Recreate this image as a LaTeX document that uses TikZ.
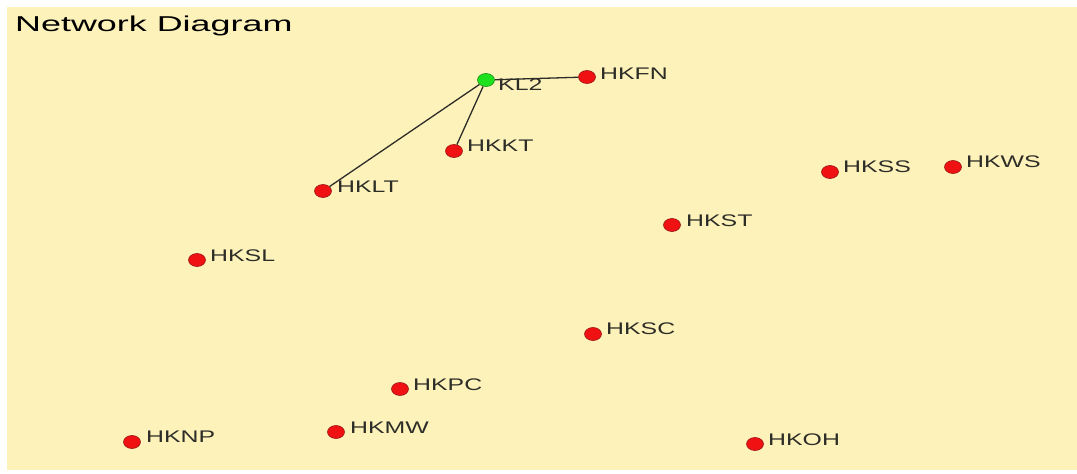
\documentclass[tikz,border=0pt]{standalone}
\usepackage{fontspec}
\setmainfont{Liberation Sans}
\usetikzlibrary{shapes.geometric}
\definecolor{bg}{RGB}{254,242,187}
\definecolor{nodered}{RGB}{240,18,18}
\definecolor{redline}{RGB}{150,20,20}
\definecolor{nodegreen}{RGB}{30,225,30}
\definecolor{greenline}{RGB}{20,140,20}
\definecolor{labelgray}{RGB}{45,45,40}
\definecolor{edgegray}{RGB}{45,45,40}
\begin{document}
\begin{tikzpicture}[x=1pt,y=-1pt,
  dot/.style={ellipse, draw=redline, line width=0.6pt, fill=nodered, minimum width=17pt, minimum height=13pt, inner sep=0pt},
  gdot/.style={dot, draw=greenline, fill=nodegreen},
  lbl/.style={anchor=west, text=labelgray, inner sep=0pt, font=\fontsize{16.8}{18}\selectfont},
  edge/.style={draw=edgegray, line width=1.3pt}]
\useasboundingbox (0,0) rectangle (1077,474);
\fill[bg] (7,7) rectangle (1077,470);
\node[anchor=west, inner sep=0pt, text=black, font=\fontsize{21.5}{24}\selectfont] (title) at (15,26) {\scalebox{1.67}[1]{Network Diagram}};
% nodes
\node[gdot] (kl2) at (486,80) {};
\node[dot] (fn) at (587,77) {};
\node[dot] (kt) at (454,151) {};
\node[dot] (lt) at (323,191) {};
\node[dot] (ss) at (830,172) {};
\node[dot] (ws) at (953,167) {};
\node[dot] (st) at (672,225) {};
\node[dot] (sl) at (197,260) {};
\node[dot] (sc) at (593,334) {};
\node[dot] (pc) at (400,389) {};
\node[dot] (np) at (132,442) {};
\node[dot] (mw) at (336,432) {};
\node[dot] (oh) at (755,444) {};
% edges
\draw[edge] (kl2) -- (fn);
\draw[edge] (kl2) -- (kt);
\draw[edge] (kl2) -- (lt);
% labels
\node[lbl] (lkl2) at (498,85) {\scalebox{1.48}[1]{KL2}};
\node[lbl] (lfn) at (600,74) {\scalebox{1.48}[1]{HKFN}};
\node[lbl] (lkt) at (467,146) {\scalebox{1.48}[1]{HKKT}};
\node[lbl] (llt) at (337,187) {\scalebox{1.48}[1]{HKLT}};
\node[lbl] (lss) at (843,167) {\scalebox{1.48}[1]{HKSS}};
\node[lbl] (lws) at (966,162) {\scalebox{1.48}[1]{HKWS}};
\node[lbl] (lst) at (686,221) {\scalebox{1.48}[1]{HKST}};
\node[lbl] (lsl) at (210,256) {\scalebox{1.48}[1]{HKSL}};
\node[lbl] (lsc) at (606,329) {\scalebox{1.48}[1]{HKSC}};
\node[lbl] (lpc) at (413,385) {\scalebox{1.48}[1]{HKPC}};
\node[lbl] (lnp) at (146,437) {\scalebox{1.48}[1]{HKNP}};
\node[lbl] (lmw) at (350,428) {\scalebox{1.48}[1]{HKMW}};
\node[lbl] (loh) at (768,440) {\scalebox{1.48}[1]{HKOH}};
\end{tikzpicture}
\end{document}
